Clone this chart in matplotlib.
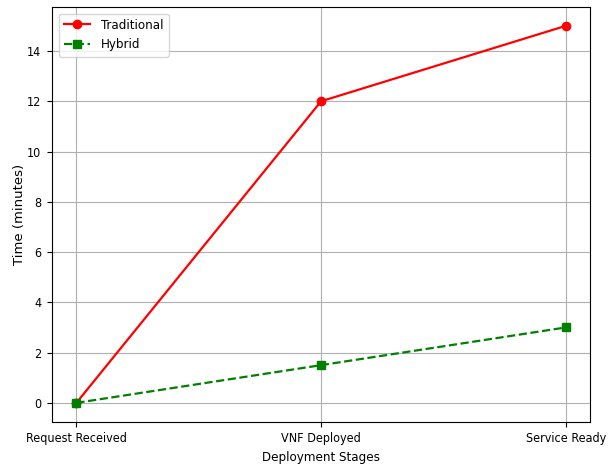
import matplotlib
matplotlib.use('Agg')
import matplotlib.pyplot as plt

stages = ['Request Received', 'VNF Deployed', 'Service Ready']
traditional = [0, 12, 15]
hybrid = [0, 1.5, 3]

plt.rcParams['font.family'] = ['DejaVu Sans']
plt.rcParams['font.stretch'] = 'condensed'
plt.rcParams.update({'font.size': 9})

fig, ax = plt.subplots(figsize=(6.11, 4.67), dpi=100)
fig.subplots_adjust(left=0.085, right=0.966, top=0.985, bottom=0.097)

ax.plot(stages, traditional, color='red', marker='o', linestyle='-', linewidth=1.6, label='Traditional')
ax.plot(stages, hybrid, color='green', marker='s', linestyle='--', linewidth=1.6, label='Hybrid')

ax.set_xlabel('Deployment Stages', fontsize=9.5, labelpad=4)
ax.set_ylabel('Time (minutes)', fontsize=9.5, fontstretch='normal', labelpad=1)
ax.tick_params(labelsize=9, pad=4)
ax.grid(True)
ax.legend(loc='upper left', fontsize=9.5)

plt.savefig('out.png')
plt.close()
